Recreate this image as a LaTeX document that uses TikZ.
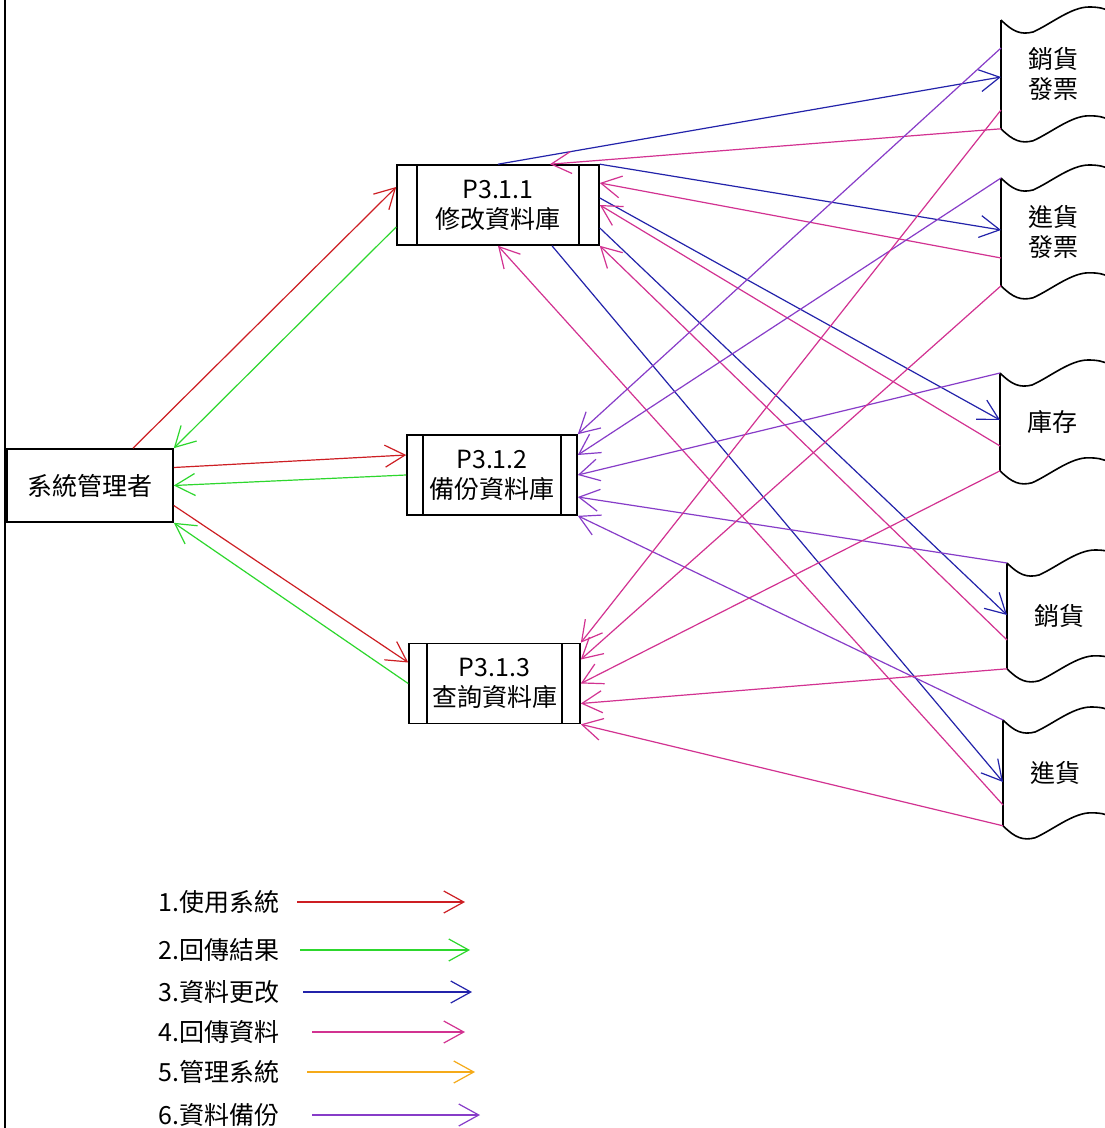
\documentclass[tikz,border=0pt]{standalone}
\usepackage{fontspec}
\newfontfamily\cjk{Noto Sans CJK TC}
\usetikzlibrary{arrows.meta}
\definecolor{usecol}{RGB}{205,30,35}
\definecolor{retcol}{RGB}{45,215,45}
\definecolor{updcol}{RGB}{35,35,170}
\definecolor{datcol}{RGB}{210,50,145}
\definecolor{mgtcol}{RGB}{245,170,25}
\definecolor{bakcol}{RGB}{135,60,200}

\begin{document}
\begin{tikzpicture}[x=0.5pt,y=-0.5pt,
  every node/.style={font=\cjk\fontsize{12.5}{15}\selectfont},
  box/.style={draw,line width=0.8pt,inner sep=0pt,minimum width=83pt,minimum height=36.5pt},
  proc/.style={draw,line width=0.8pt,inner sep=0pt,align=center,minimum height=40pt,
    path picture={\draw[line width=0.8pt]
      ([xshift=#1]path picture bounding box.north west) -- ([xshift=#1]path picture bounding box.south west)
      ([xshift=-#1]path picture bounding box.north east) -- ([xshift=-#1]path picture bounding box.south east);}},
  proc/.default=9pt,
  store/.style={inner sep=0pt,anchor=north west,minimum width=52pt,minimum height=#1,align=center},
  store/.default=53pt,
  arr/.style={-{Straight Barb[length=10pt,width=11pt]},line width=0.6pt},
  usearr/.style={arr,draw=usecol},
  retarr/.style={arr,draw=retcol},
  updarr/.style={arr,draw=updcol},
  datarr/.style={arr,draw=datcol},
  bakarr/.style={arr,draw=bakcol}]
  \useasboundingbox (0,0) rectangle (1104,1128);
  \fill[white] (0,0) rectangle (1104,1128);
  \draw[line width=1pt] (5,0) -- (5,1128);

  \node[box] (sys) at (90,485.5) {系統管理者};
  \node[proc=10pt,minimum width=101pt] (p1) at (498,205) {P3.1.1\\修改資料庫};
  \node[proc=8pt,minimum width=85pt] (p2) at (492,475) {P3.1.2\\備份資料庫};
  \node[proc=9pt,minimum width=85.5pt] (p3) at (494.5,683.5) {P3.1.3\\查詢資料庫};

  \node[store=54pt] (xsfp) at (1001,20) {銷貨\\發票};
  \node[store=53.5pt] (jhfp) at (1001,178) {進貨\\發票};
  \node[store=48.5pt] (kc) at (1000,373) {庫存};
  \node[store=52.5pt] (xs) at (1007,563) {銷貨};
  \node[store=52.5pt] (jh) at (1003,720) {進貨};
  \foreach \s in {xsfp,jhfp,kc,xs,jh}{
    \draw[line width=0.8pt] (\s.north west) -- (\s.south west);
    \foreach \a in {north west,south west}
      \draw[line width=0.8pt] (\s.\a) .. controls +(12,12) and +(-12,3) .. ++(32,12)
        .. controls +(18,-8) and +(-18,0) .. ++(56,-25) .. controls +(8,0) and +(-6,-4) .. ++(22,5);
  }

  \draw[usearr] ([xshift=21.5pt]sys.north) -- ([yshift=9pt]p1.west);
  \draw[usearr] ([yshift=9pt]sys.east) -- ([yshift=10pt]p2.west);
  \draw[usearr] ([yshift=-10pt]sys.east) -- ([yshift=10.5pt]p3.west);
  \draw[retarr] ([yshift=-11pt]p1.west) -- (sys.north east);
  \draw[retarr] (p2.west) -- (sys.east);
  \draw[retarr] (p3.west) -- (sys.south east);

  \draw[updarr] (p1.north) -- ([yshift=-28.5pt]xsfp.north west);
  \draw[updarr] (p1.north east) -- ([yshift=-26pt]jhfp.north west);
  \draw[updarr] ([yshift=3.5pt]p1.east) -- ([yshift=-23.5pt]kc.north west);
  \draw[updarr] ([yshift=-11.5pt]p1.east) -- ([yshift=-26pt]xs.north west);
  \draw[updarr] ([xshift=27pt]p1.south) -- ([yshift=-31pt]jh.north west);

  \draw[datarr] (xsfp.south west) -- ([xshift=26pt]p1.north);
  \draw[datarr] ([yshift=-40pt]jhfp.north west) -- ([yshift=11pt]p1.east);
  \draw[datarr] ([yshift=-36.5pt]kc.north west) -- (p1.east);
  \draw[datarr] ([yshift=-38.5pt]xs.north west) -- (p1.south east);
  \draw[datarr] ([yshift=-42.5pt]jh.north west) -- (p1.south);

  \draw[bakarr] ([yshift=-14pt]xsfp.north west) -- (p2.north east);
  \draw[bakarr] (jhfp.north west) -- ([yshift=10pt]p2.east);
  \draw[bakarr] (kc.north west) -- (p2.east);
  \draw[bakarr] (xs.north west) -- ([yshift=-11pt]p2.east);
  \draw[bakarr] (jh.north west) -- (p2.south east);

  \draw[datarr] ([yshift=-45pt]xsfp.north west) -- (p3.north east);
  \draw[datarr] (jhfp.south west) -- ([yshift=12pt]p3.east);
  \draw[datarr] (kc.south west) -- (p3.east);
  \draw[datarr] (xs.south west) -- ([yshift=-10pt]p3.east);
  \draw[datarr] (jh.south west) -- (p3.south east);

  \foreach \i/\txt/\col/\yy/\xa/\xb in {1/使用系統/usecol/902/297/465,2/回傳結果/retcol/950/300/470,
      3/資料更改/updcol/992/303/472,4/回傳資料/datcol/1032/312/465,
      5/管理系統/mgtcol/1072/307/475,6/資料備份/bakcol/1115/312/480}{
    \node[anchor=west,inner sep=0pt] (lg\i) at (158,\yy) {\i.\txt};
    \coordinate (lgbeg\i) at (\xa,\yy);
    \coordinate (lgend\i) at (\xb,\yy);
    \draw[arr,draw=\col] (lgbeg\i) -- (lgend\i);
  }
\end{tikzpicture}
\end{document}
